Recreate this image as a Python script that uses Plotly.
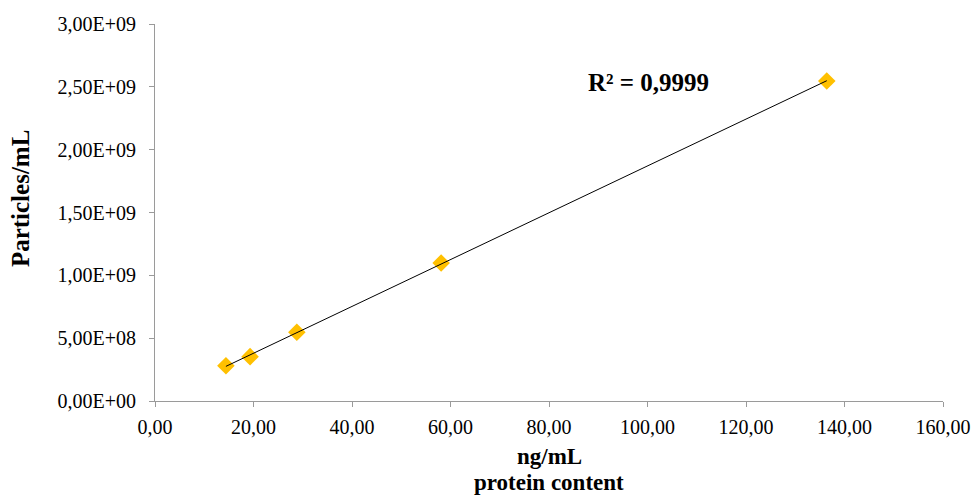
import numpy as np
import plotly.graph_objects as go

# Protein content (ng/mL) vs. particle concentration (particles/mL)
protein_ng_ml = [14.4, 19.3, 28.8, 58.1, 136.4]
particles_ml = [2.81e8, 3.53e8, 5.47e8, 1.098e9, 2.546e9]

x_ticks = [0, 20, 40, 60, 80, 100, 120, 140, 160]
y_ticks = [0, 5e8, 1e9, 1.5e9, 2e9, 2.5e9, 3e9]
r2_label = "R² = 0,9999"
x_title_lines = ["ng/mL", "protein content"]
y_title = "Particles/mL"


def sci_comma(v):
    if v == 0:
        return "0,00E+00"
    exp = int(np.floor(np.log10(v)))
    mant = v / 10 ** exp
    return f"{mant:.2f}".replace(".", ",") + f"E+{exp:02d}"


x_text = [f"{v:.2f}".replace(".", ",") for v in x_ticks]
y_text = [sci_comma(v) for v in y_ticks]

# Linear trend line across the measured range
slope, intercept = np.polyfit(protein_ng_ml, particles_ml, 1)
fit_x = [min(protein_ng_ml), max(protein_ng_ml)]
fit_y = [slope * v + intercept for v in fit_x]

font_family = "Liberation Serif, Times New Roman, serif"

fig = go.Figure()
fig.add_trace(go.Scatter(
    x=protein_ng_ml, y=particles_ml, mode="markers",
    marker=dict(symbol="diamond", size=13.5, color="#FFC000"),
    showlegend=False,
))
fig.add_trace(go.Scatter(
    x=fit_x, y=fit_y, mode="lines",
    line=dict(color="black", width=1),
    showlegend=False,
))

# R² label next to the trend line
fig.add_annotation(
    x=100.3, y=2.536e9, xref="x", yref="y", text=f"<b>{r2_label}</b>",
    showarrow=False, font=dict(family=font_family, size=25, color="black"),
)

# Axis titles (two-line x title with tight line spacing)
fig.add_annotation(
    x=0.5, y=-0.1464, xref="paper", yref="paper", text=f"<b>{x_title_lines[0]}</b>",
    showarrow=False, xanchor="center", yanchor="middle",
    font=dict(family=font_family, size=23, color="black"),
)
fig.add_annotation(
    x=0.5, y=-0.2154, xref="paper", yref="paper", text=f"<b>{x_title_lines[1]}</b>",
    showarrow=False, xanchor="center", yanchor="middle",
    font=dict(family=font_family, size=23, color="black"),
)
fig.add_annotation(
    x=-0.1706, y=0.537, xref="paper", yref="paper", text=f"<b>{y_title}</b>",
    showarrow=False, xanchor="center", yanchor="middle", textangle=-90,
    font=dict(family=font_family, size=25, color="black"),
)

axis_common = dict(
    showgrid=False, zeroline=False, showline=True, linecolor="#9a9a9a", linewidth=1,
    ticks="outside", tickcolor="#9a9a9a", ticklen=5, tickwidth=1, automargin=False,
    tickfont=dict(family=font_family, size=20, color="black"),
)

fig.update_xaxes(range=[0, 160], tickvals=x_ticks, ticktext=x_text,
                 ticklabelstandoff=3, **axis_common)
fig.update_yaxes(range=[0, 3e9], tickvals=y_ticks, ticktext=y_text,
                 ticklabelstandoff=9, **axis_common)

fig.update_layout(
    width=974, height=495,
    margin=dict(l=155, r=31, t=24, b=94),
    plot_bgcolor="white", paper_bgcolor="white",
)

fig.write_html("out.html")
